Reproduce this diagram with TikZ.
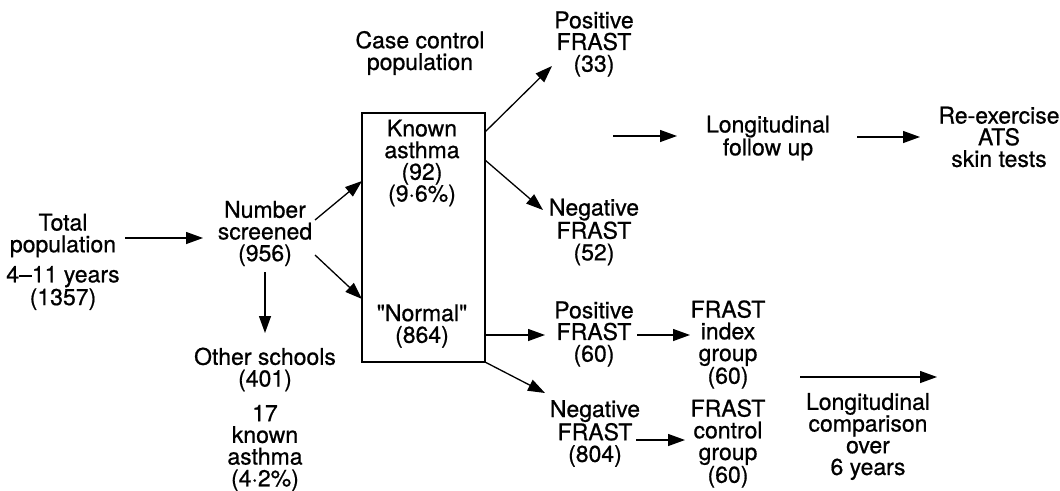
\documentclass[tikz,border=0pt]{standalone}
\usepackage{fontspec}
\setmainfont{TeX Gyre Heros}[FakeBold=0.7]
\usetikzlibrary{arrows.meta}
\begin{document}
\begin{tikzpicture}[x=1pt,y=-1pt,
  lbl/.style={align=center,inner sep=0pt,font=\fontsize{23}{21.7}\selectfont},
  arr/.style={line width=1.3pt,-{Triangle[length=17pt,width=12pt]}},
  boxst/.style={draw,line width=1.3pt,minimum width=123pt,minimum height=249pt,inner sep=0pt}]
\useasboundingbox (0,0) rectangle (1060,490);
\node[lbl] (tp) at (63,235.5) {Total\\population};
\node[lbl] (ty) at (63,288) {4–11 years\\(1357)};
\node[lbl] (ns) at (265,233.5) {Number\\screened\\(956)};
\node[lbl] (os) at (265,369.5) {Other schools\\(401)};
\node[lbl] (ok) at (265,448) {17\\known\\asthma\\(4·2\%)};
\node[lbl] (cc) at (420,53) {Case control\\population};
\node[boxst] (box) at (423.5,237.5) {};
\node[lbl] (ka) at (422,163) {Known\\asthma\\(92)\\(9·6\%)};
\node[lbl] (nm) at (422,326) {\textquotedbl Normal\textquotedbl\\(864)};
\node[lbl] (pf1) at (594,44) {Positive\\FRAST\\(33)};
\node[lbl] (nf1) at (594,232) {Negative\\FRAST\\(52)};
\node[lbl] (lf) at (768,138) {Longitudinal\\follow up};
\node[lbl] (re) at (999,137) {Re-exercise\\ATS\\skin tests};
\node[lbl] (pf2) at (594,334) {Positive\\FRAST\\(60)};
\node[lbl] (nf2) at (595,433.5) {Negative\\FRAST\\(804)};
\node[lbl] (fi) at (728,344.5) {FRAST\\index\\group\\(60)};
\node[lbl] (fc) at (728,443.5) {FRAST\\control\\group\\(60)};
\node[lbl] (lc) at (868,436.5) {Longitudinal\\comparison\\over\\6 years};
\coordinate (j1) at (613,136);
\coordinate (c1) at (800,377);
\coordinate (c2) at (937,377);
\draw[arr] ([shift={(62,2.5)}]tp.center) -- ([shift={(-62,4.5)}]ns.center);
\draw[arr] ([shift={(0,38.5)}]ns.center) -- ([shift={(0,-36.5)}]os.center);
\draw[arr] ([shift={(50,-13.5)}]ns.center) -- ([shift={(-61.5,-56.5)}]box.center);
\draw[arr] ([shift={(50,21.5)}]ns.center) -- ([shift={(-61.5,61.5)}]box.center);
\draw[arr] ([shift={(61.5,-105.5)}]box.center) -- ([shift={(-42,22)}]pf1.center);
\draw[arr] ([shift={(61.5,-77.5)}]box.center) -- ([shift={(-51,-22)}]nf1.center);
\draw[arr] (j1) -- ([shift={(-91,-2)}]lf.center);
\draw[arr] ([shift={(89,-1)}]lf.center) -- ([shift={(-79,0)}]re.center);
\draw[arr] ([shift={(61.5,97.5)}]box.center) -- ([shift={(-49,1)}]pf2.center);
\draw[arr] ([shift={(61.5,124.5)}]box.center) -- ([shift={(-50,-40.5)}]nf2.center);
\draw[arr] ([shift={(43,1)}]pf2.center) -- ([shift={(-38,-9.5)}]fi.center);
\draw[arr] ([shift={(41,6.5)}]nf2.center) -- ([shift={(-43,-3.5)}]fc.center);
\draw[arr] (c1) -- (c2);
\end{tikzpicture}
\end{document}
